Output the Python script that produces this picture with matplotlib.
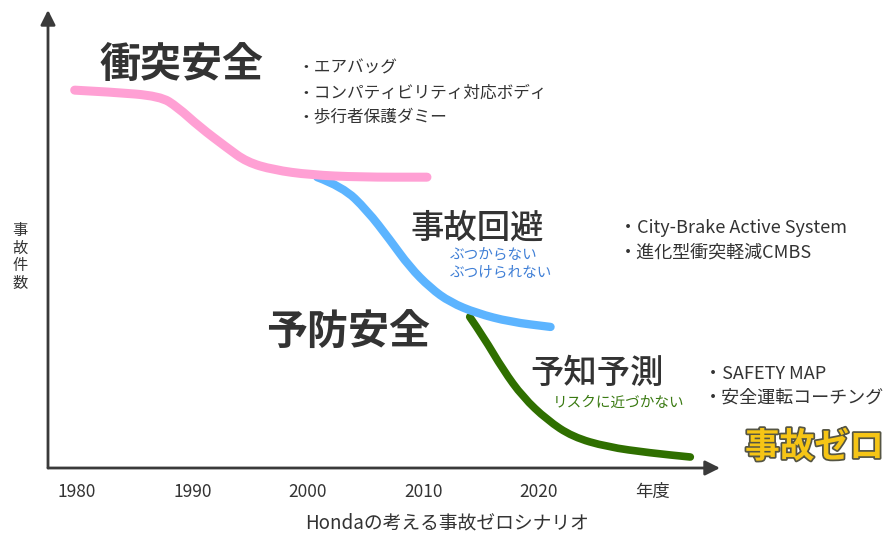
import matplotlib
matplotlib.use("Agg")
import matplotlib.pyplot as plt
import matplotlib.patheffects as pe
from matplotlib.path import Path
from matplotlib.patches import PathPatch

plt.rcParams['font.family'] = ['Noto Sans CJK JP', 'DejaVu Sans']

# ---- data ----
pink_years = [1979.8, 1982.9, 1987.2, 1988.7, 1990.6, 1993.0, 1994.7, 1997.0, 2000.2, 2004.5, 2010.3]
pink_vals  = [82.5, 82.1, 81.2, 78.8, 74.5, 69.9, 66.8, 65.1, 64.0, 63.5, 63.5]

blue_years = [2000.8, 2003.0, 2005.1, 2007.1, 2008.8, 2010.6, 2012.3, 2014.6, 2017.5, 2021.0]
blue_vals  = [63.5, 61.4, 56.3, 49.8, 43.9, 39.3, 36.2, 33.8, 31.9, 30.8]

green_years = [2014.0, 2015.2, 2016.9, 2018.6, 2020.7, 2022.9, 2025.9, 2029.6, 2033.1]
green_vals  = [33.0, 28.6, 21.4, 15.5, 10.5, 6.8, 4.6, 3.3, 2.4]

tick_years  = [1980, 1990, 2000, 2010, 2020, 2029.8]
tick_labels = ['1980', '1990', '2000', '2010', '2020', '年度']

W, H = 890, 540
fig = plt.figure(figsize=(W / 100, H / 100), dpi=100)
ax = fig.add_axes([48 / W, (H - 468) / H, 672 / W, 458 / H])
ax.set_xlim(1977.49, 2035.67)
ax.set_ylim(0, 100)
for s in ax.spines.values():
    s.set_visible(False)
ax.set_yticks([])
ax.set_xticks(tick_years)
ax.set_xticklabels(tick_labels, fontsize=12.5, color='#333333')
ax.tick_params(axis='x', length=0, pad=11)

axis_col = '#3a3a3a'
ax.annotate('', xy=(0, 1), xytext=(0, 0), xycoords='axes fraction',
            arrowprops=dict(arrowstyle='-|>', color=axis_col, lw=2, mutation_scale=22,
                            shrinkA=0, shrinkB=0))
ax.annotate('', xy=(1, 0), xytext=(0, 0), xycoords='axes fraction',
            arrowprops=dict(arrowstyle='-|>', color=axis_col, lw=2, mutation_scale=22,
                            shrinkA=0, shrinkB=0))


def smooth_line(xs, ys, color, lw, z):
    """Draw the polyline as a smooth quadratic-Bezier path through the midpoints."""
    pts = list(zip(xs, ys))
    verts = [pts[0]]
    codes = [Path.MOVETO]
    for i in range(1, len(pts) - 1):
        mid = ((pts[i][0] + pts[i + 1][0]) / 2, (pts[i][1] + pts[i + 1][1]) / 2)
        verts += [pts[i], mid]
        codes += [Path.CURVE3, Path.CURVE3]
    verts.append(pts[-1])
    codes.append(Path.LINETO)
    patch = PathPatch(Path(verts, codes), facecolor='none', edgecolor=color, lw=lw,
                      capstyle='round', joinstyle='round', zorder=z)
    ax.add_patch(patch)


smooth_line(green_years, green_vals, '#2f6f00', 5.5, 2)
smooth_line(blue_years, blue_vals, '#5cb4ff', 6, 3)
smooth_line(pink_years, pink_vals, '#ffa0d4', 6.5, 4)


def fp(x, y):
    return x / W, 1 - y / H


dark = '#333333'
T = fig.transFigure

fig.text(*fp(100, 65), '衝突安全', fontsize=29.5, fontweight='bold', color=dark,
         ha='left', va='center', transform=T)
for i, s in enumerate(['・エアバッグ', '・コンパティビリティ対応ボディ', '・歩行者保護ダミー']):
    fig.text(*fp(297, 68 + 25 * i), s, fontsize=12, color=dark, ha='left', va='center', transform=T)

fig.text(*fp(411, 228), '事故回避', fontsize=24, fontweight='medium', color=dark,
         ha='left', va='center', transform=T)
fig.text(*fp(450, 256), 'ぶつからない', fontsize=10.5, color='#3f7fd6', ha='left', va='center', transform=T)
fig.text(*fp(450, 273), 'ぶつけられない', fontsize=10.5, color='#3f7fd6', ha='left', va='center', transform=T)
fig.text(*fp(619, 228), '・City-Brake Active System', fontsize=13, color=dark, ha='left', va='center', transform=T)
fig.text(*fp(619, 253), '・進化型衝突軽減CMBS', fontsize=13, color=dark, ha='left', va='center', transform=T)

fig.text(*fp(266, 333), '予防安全', fontsize=29.5, fontweight='bold', color=dark,
         ha='left', va='center', transform=T)

fig.text(*fp(530, 373), '予知予測', fontsize=24, fontweight='medium', color=dark,
         ha='left', va='center', transform=T)
fig.text(*fp(553, 403), 'リスクに近づかない', fontsize=10.5, color='#3a7a12', ha='left', va='center', transform=T)
fig.text(*fp(704, 374), '・SAFETY MAP', fontsize=13, color=dark, ha='left', va='center', transform=T)
fig.text(*fp(704, 398), '・安全運転コーチング', fontsize=13, color=dark, ha='left', va='center', transform=T)

fig.text(*fp(745, 447), '事故ゼロ', fontsize=25, fontweight='bold', color='#f6c515',
         ha='left', va='center', transform=T,
         path_effects=[pe.withStroke(linewidth=2.5, foreground='#555544')])

fig.text(*fp(20, 257), '事\n故\n件\n数', fontsize=11, color=dark, ha='center', va='center',
         linespacing=1.05, transform=T)
fig.text(*fp(447, 523), 'Hondaの考える事故ゼロシナリオ', fontsize=13.5, color=dark,
         ha='center', va='center', transform=T)

fig.savefig('out.png', dpi=100, facecolor='white')
